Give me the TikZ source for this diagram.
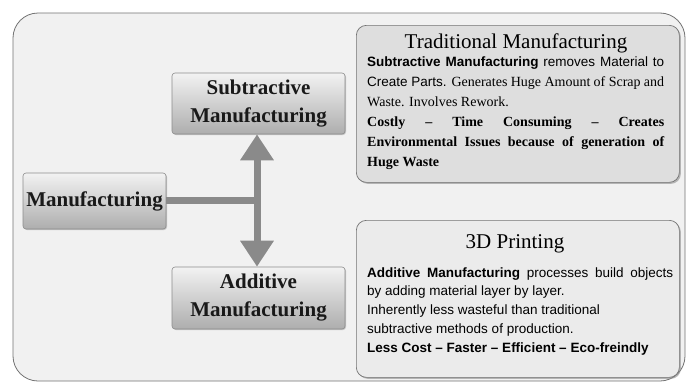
\documentclass[tikz,border=0pt]{standalone}
\usepackage{fontspec}
\setmainfont{Liberation Serif}
\newfontfamily\sansf{Liberation Sans}
\usetikzlibrary{arrows.meta,shadows}
\definecolor{arrowgray}{RGB}{138,138,138}
\definecolor{bggray}{RGB}{241,241,241}
\newcommand\bodysz{\fontsize{13.5}{20}\selectfont}
\newcommand\serifsz{\fontsize{14}{20}\selectfont}
\begin{document}
\begin{tikzpicture}[x=1pt,y=-1pt,
  lbl/.style={draw=black!45, line width=0.6pt, rounded corners=3pt,
    top color=black!5, bottom color=black!32, inner sep=0pt, align=center,
    font=\fontsize{21}{28}\selectfont\bfseries, text=black!90,
    drop shadow={shadow xshift=1pt, shadow yshift=-1pt, fill=black!40, opacity=0.5}},
  infobox/.style={draw=black!55, line width=0.7pt, rounded corners=10pt,
    inner sep=0pt, anchor=north west,
    drop shadow={shadow xshift=1.5pt, shadow yshift=-1.5pt, fill=black!45, opacity=0.6}},
  ttl/.style={font=\fontsize{21}{25}\selectfont, inner sep=0pt, anchor=base},
  body/.style={inner sep=0pt, anchor=base west},
  conn/.style={draw=arrowgray, line width=7pt},
  tipend/.style={-{Triangle[width=32pt,length=26pt]}},
]
\useasboundingbox (0,0) rectangle (690,383);
\fill[white] (0,0) rectangle (690,383);
\draw[draw=black!55, line width=0.8pt, fill=bggray, rounded corners=25pt] (13,13) rectangle (685,381);

% info boxes
\node[infobox, fill=black!13, minimum width=323pt, minimum height=157pt] (trad) at (356,25) {};
\node[infobox, fill=black!8, minimum width=323pt, minimum height=157pt] (print) at (356,220) {};

\node[ttl] (tradT) at (516,48) {Traditional Manufacturing};
\node[body] (tradB) at (367,66) {\vtop{\baselineskip=20pt \lineskiplimit=-20pt
  \hbox to 297pt{\sansf\bodysz\bfseries Subtractive Manufacturing \mdseries removes Material to}
  \hbox to 297pt{\sansf\bodysz Create Parts. \rmfamily\serifsz Generates Huge Amount of Scrap and}
  \hbox{\serifsz Waste. Involves Rework.}
  \hbox to 297pt{\serifsz\bfseries Costly – Time Consuming – Creates}
  \hbox to 297pt{\serifsz\bfseries Environmental Issues because of generation of}
  \hbox{\serifsz\bfseries Huge Waste}}};

\node[ttl] (printT) at (515,248) {3D Printing};
\node[body] (printB) at (367,277) {\vtop{\baselineskip=18.8pt \lineskiplimit=-20pt
  \hbox to 306pt{\sansf\bodysz\bfseries Additive Manufacturing \mdseries processes build objects}
  \hbox{\sansf\bodysz by adding material layer by layer.}
  \hbox{\sansf\bodysz Inherently less wasteful than traditional}
  \hbox{\sansf\bodysz subtractive methods of production.}
  \hbox{\sansf\bodysz\bfseries Less Cost – Faster – Efficient – Eco-freindly}}};

% label boxes positions
\coordinate (j) at (257,200);
\node[lbl, minimum width=143pt, minimum height=56pt] (man) at (94.5,201) {Manufacturing};
\draw[conn] (j -| man.east) -- (j);
\node[lbl, minimum width=173pt, minimum height=61pt] (sub) at (258.5,103.5) {Subtractive\\Manufacturing};
\node[lbl, minimum width=173pt, minimum height=62pt] (add) at (258.5,298) {Additive\\Manufacturing};
\draw[conn, tipend] (j) -- (j |- sub.south);
\draw[conn, tipend] (j) -- (j |- add.north);
\end{tikzpicture}
\end{document}
